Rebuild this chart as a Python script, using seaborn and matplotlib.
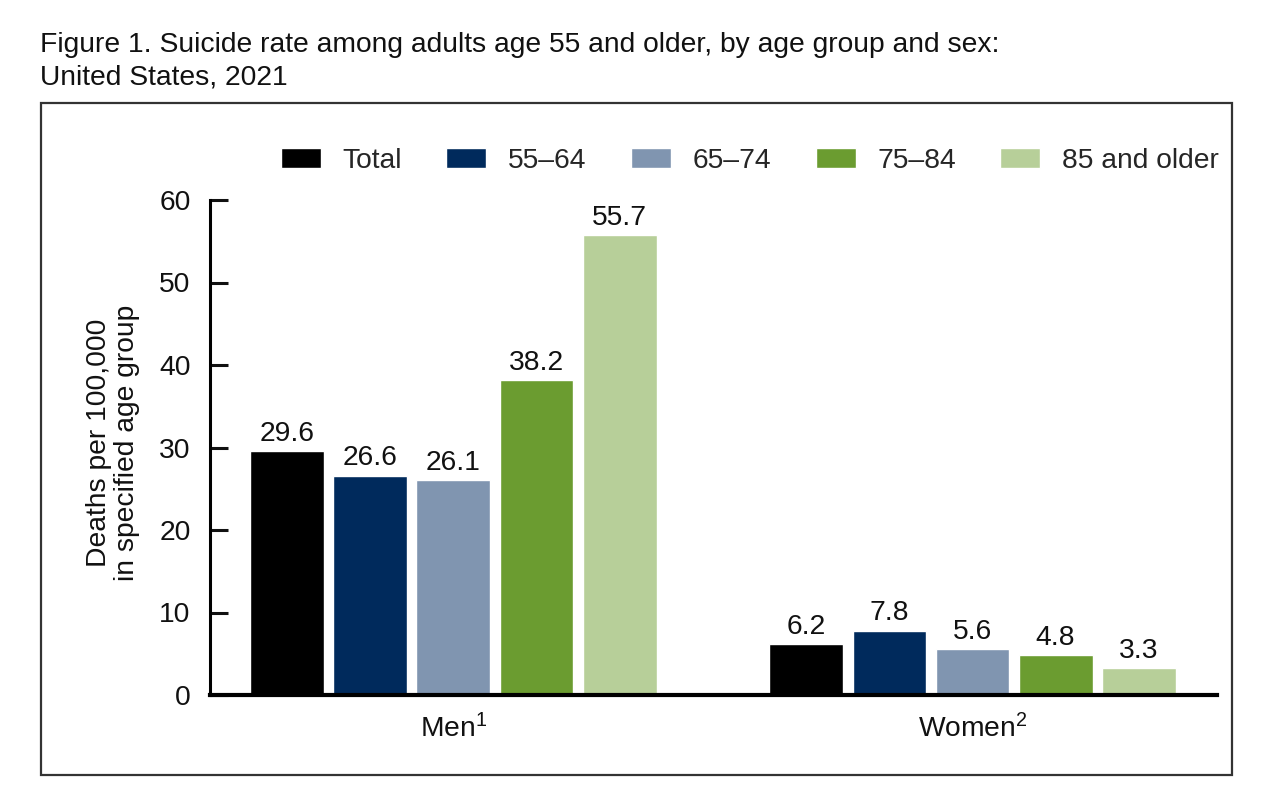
import matplotlib
matplotlib.use("Agg")
import matplotlib.pyplot as plt
from matplotlib import font_manager as fm
from matplotlib.patches import Rectangle
import seaborn as sns
import pandas as pd

# ---- data ----
sexes = ["Men$^{1}$", "Women$^{2}$"]
age_groups = ["Total", "55–64", "65–74", "75–84", "85 and older"]
men_rates = [29.6, 26.6, 26.1, 38.2, 55.7]
women_rates = [6.2, 7.8, 5.6, 4.8, 3.3]
colors = ["#000000", "#002a5c", "#8095b0", "#6b9c30", "#b7cf99"]
yticks = [0, 10, 20, 30, 40, 50, 60]
title = ("Figure 1. Suicide rate among adults age 55 and older, by age group and sex:\n"
         "United States, 2021")
ylabel = "Deaths per 100,000\nin specified age group"

rows = []
for sex, vals in zip(sexes, [men_rates, women_rates]):
    for age, v in zip(age_groups, vals):
        rows.append({"sex": sex, "age": age, "rate": v})
df = pd.DataFrame(rows)

sns.set_theme(style="white")
names = {f.name for f in fm.fontManager.ttflist}
if "Liberation Sans Narrow" in names:
    fam, fs = "Liberation Sans Narrow", 23
else:
    fam, fs = "Liberation Sans", 20.3
plt.rcParams["font.family"] = [fam, "DejaVu Sans"]
plt.rcParams["mathtext.fontset"] = "custom"
plt.rcParams["mathtext.rm"] = fam
plt.rcParams["mathtext.it"] = fam
plt.rcParams["mathtext.bf"] = fam
plt.rcParams["mathtext.default"] = "rm"

W, H = 1280, 787
fig = plt.figure(figsize=(W / 100, H / 100), dpi=100)
fig.patch.set_facecolor("white")
ax = fig.add_axes([210 / W, 1 - 695 / H, (1217 - 210) / W, (695 - 200) / H])

sns.barplot(data=df, x="sex", y="rate", hue="age", hue_order=age_groups,
            order=sexes, palette=colors, width=0.8, gap=0.11, saturation=1,
            ax=ax, legend=True)

for c in ax.containers:
    ax.bar_label(c, fmt="%.1f", padding=3, fontsize=fs, color="#111111")

ax.set_ylim(0, 60)
ax.set_xlim(-0.469, 1.471)
ax.set_yticks(yticks)
ax.set_yticklabels([str(t) for t in yticks])
ax.tick_params(axis="y", direction="in", length=13, width=2.2, pad=14,
               labelsize=fs, colors="#111111", left=True)
ax.tick_params(axis="x", length=0, pad=14, labelsize=fs, colors="#111111")
ax.set_xlabel("")
ax.set_ylabel("")
for s in ["top", "right"]:
    ax.spines[s].set_visible(False)
ax.spines["left"].set_linewidth(2.2)
ax.spines["left"].set_color("black")
ax.spines["bottom"].set_linewidth(3)
ax.spines["bottom"].set_color("black")
ax.grid(False)

handles, labels = ax.get_legend_handles_labels()
ax.get_legend().remove()
fpx = fs * 100 / 72
fig.legend(handles, labels, loc="center", bbox_to_anchor=(750 / W, 1 - 161 / H),
           ncol=5, frameon=False, fontsize=fs, handlelength=40 / fpx,
           handleheight=20 / fpx, handletextpad=22 / fpx, columnspacing=44 / fpx,
           borderaxespad=0)

fig.text(113 / W, 1 - 443 / H, ylabel, rotation=90, ha="center", va="center",
         fontsize=fs, multialignment="center", linespacing=1.12, color="#111111")

fig.text(40 / W, 1 - 32 / H, title, ha="left", va="top", fontsize=fs,
         linespacing=1.35, color="#111111")

fig.add_artist(Rectangle((41 / W, 1 - 775 / H), (1232 - 41) / W, (775 - 103) / H,
                         transform=fig.transFigure, fill=False,
                         edgecolor="#333333", linewidth=1.6))

fig.savefig("out.png", dpi=100)
